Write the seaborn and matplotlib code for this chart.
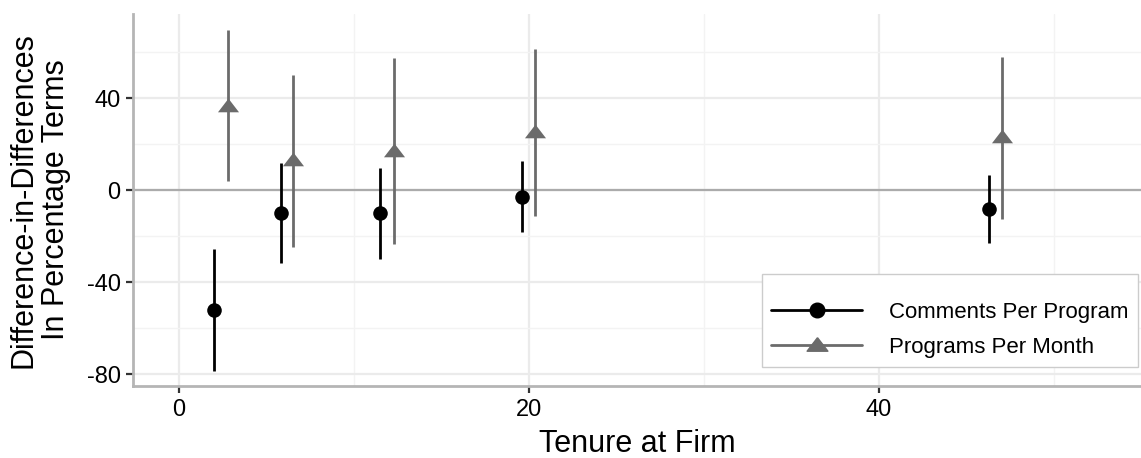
import matplotlib
matplotlib.use("Agg")
import matplotlib.pyplot as plt
from matplotlib.lines import Line2D
from matplotlib.ticker import MultipleLocator
import seaborn as sns
import pandas as pd

# tenure (x, slightly dodged per series) and estimates with 95% intervals
tenure_comments = [2.0, 5.8, 11.5, 19.6, 46.3]
comments_est = [-52.2, -9.9, -10.1, -2.9, -8.1]
comments_lo = [-78.6, -31.9, -30.1, -18.4, -23.2]
comments_hi = [-25.8, 11.9, 9.4, 12.7, 6.5]

tenure_programs = [2.8, 6.5, 12.3, 20.35, 47.0]
programs_est = [36.5, 13.0, 17.1, 25.3, 23.2]
programs_lo = [3.9, -24.6, -23.6, -11.3, -12.7]
programs_hi = [69.6, 49.9, 57.2, 61.3, 57.8]

series_names = ["Comments Per Program", "Programs Per Month"]
series_colors = ["black", "#6b6b6b"]

comments = pd.DataFrame({"tenure": tenure_comments, "est": comments_est,
                         "lo": comments_lo, "hi": comments_hi})
programs = pd.DataFrame({"tenure": tenure_programs, "est": programs_est,
                         "lo": programs_lo, "hi": programs_hi})

sns.set_style("white")
plt.rcParams["font.family"] = ["Liberation Sans", "DejaVu Sans"]
plt.rcParams["axes.unicode_minus"] = False
plt.rcParams["text.color"] = "black"
plt.rcParams["axes.labelcolor"] = "black"

fig = plt.figure(figsize=(11.41, 4.58), dpi=100)
ax = fig.add_axes([0.1166, 0.157, 0.8834, 0.8124])

# ggplot-like triangle
tri = [(0, 0.75), (-1, -0.55), (1, -0.55), (0, 0.75)]

ax.axhline(0, color="#ababab", lw=1.6, zorder=1)

ax.vlines(comments["tenure"], comments["lo"], comments["hi"],
          color=series_colors[0], lw=2.0, zorder=2)
sns.scatterplot(data=comments, x="tenure", y="est", ax=ax, color=series_colors[0],
                marker="o", s=110, linewidth=0, zorder=3)

ax.vlines(programs["tenure"], programs["lo"], programs["hi"],
          color=series_colors[1], lw=2.0, zorder=2)
sns.scatterplot(data=programs, x="tenure", y="est", ax=ax, color=series_colors[1],
                marker=tri, s=230, linewidth=0, zorder=3)

ax.set_xlim(-2.63, 54.97)
ax.set_ylim(-85.2, 76.5)
ax.xaxis.set_major_locator(MultipleLocator(20))
ax.xaxis.set_minor_locator(MultipleLocator(10))
ax.yaxis.set_major_locator(MultipleLocator(40))
ax.yaxis.set_minor_locator(MultipleLocator(20))

ax.grid(which="major", color="#ebebeb", lw=1.6, zorder=0)
ax.grid(which="minor", color="#f3f3f3", lw=1.0, zorder=0)
ax.set_axisbelow(True)

for side in ["top", "right"]:
    ax.spines[side].set_visible(False)
for side in ["left", "bottom"]:
    ax.spines[side].set_color("#b5b5b5")
    ax.spines[side].set_linewidth(2.0)

ax.tick_params(axis="both", which="major", length=5, width=1.6, color="#333333",
               labelsize=17, labelcolor="black", pad=4, direction="out",
               bottom=True, left=True)
ax.tick_params(which="minor", length=0)

ax.set_xlabel("Tenure at Firm", fontsize=22, labelpad=6)
ax.set_ylabel("")
fig.text(40 / 1141, 1 - 200 / 458, "Difference-in-Differences\nIn Percentage Terms",
         rotation=90, ha="center", va="center", fontsize=22, multialignment="center",
         linespacing=1.1)

handles = [
    Line2D([], [], color=series_colors[0], lw=2.0, marker="o", markersize=10.5),
    Line2D([], [], color=series_colors[1], lw=2.0, marker=tri, markersize=15),
]
leg = ax.legend(handles, series_names, loc="lower right", bbox_to_anchor=(0.997, 0.051),
                borderaxespad=0, fontsize=16, handlelength=4.1, handletextpad=1.2,
                labelspacing=0.63, borderpad=0.43, fancybox=False, framealpha=1,
                title=" ", title_fontsize=3)
leg.get_frame().set_edgecolor("#cccccc")
leg.get_frame().set_linewidth(1.0)

fig.savefig("out.png", dpi=100)
